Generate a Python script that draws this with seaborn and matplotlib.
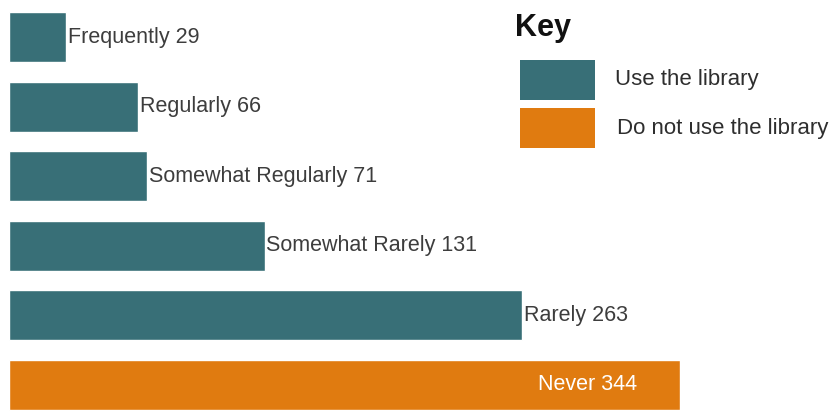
import matplotlib
matplotlib.use("Agg")
import matplotlib.pyplot as plt
import seaborn as sns
import pandas as pd
from matplotlib.patches import Rectangle

# Library use frequency survey
categories = ["Frequently", "Regularly", "Somewhat Regularly", "Somewhat Rarely", "Rarely", "Never"]
counts = [29, 66, 71, 131, 263, 344]
groups = ["Use the library"] * 5 + ["Do not use the library"]

TEAL = "#386f77"
ORANGE = "#e07b10"
palette = {"Use the library": TEAL, "Do not use the library": ORANGE}

df = pd.DataFrame({"category": categories, "count": counts, "group": groups})

sns.set_theme(style="white")
plt.rcParams["font.family"] = ["Liberation Sans", "DejaVu Sans"]

W, H = 835, 411
fig = plt.figure(figsize=(W / 100, H / 100), dpi=100)
ax = fig.add_axes([9 / W, 0, (680 - 9) / W, 1])

sns.barplot(data=df, x="count", y="category", hue="group", palette=palette,
            order=categories, dodge=False, legend=False, width=0.72,
            orient="h", ax=ax, saturation=1)

ax.set_xlim(0, 344)
ax.set_ylim(5.374, -0.532)
ax.axis("off")

for i, (cat, val, grp) in enumerate(zip(categories, counts, groups)):
    label = f"{cat} {val}"
    if grp == "Use the library":
        ax.text(val + 1.0, i, label, ha="left", va="center", fontsize=15.5,
                color="#3d3d3d", clip_on=False)
    else:
        ax.text(val - 22, i, label, ha="right", va="center", fontsize=15.5,
                color="white", clip_on=False)

# Key
fig.text(515 / W, 1 - 28 / H, "Key", fontsize=22, fontweight="bold",
         color="#111111", ha="left", va="center")
for y0, y1, col, lab, tx in [(60, 100, TEAL, "Use the library", 615),
                            (108, 148, ORANGE, "Do not use the library", 617)]:
    fig.patches.append(Rectangle((520 / W, 1 - y1 / H), (595 - 520) / W, (y1 - y0) / H,
                                 transform=fig.transFigure, facecolor=col,
                                 edgecolor="none"))
    fig.text(tx / W, 1 - (y0 + y1) / 2 / H, lab, fontsize=16, color="#2e2e2e",
             ha="left", va="center")

fig.savefig("out.png", dpi=100)
